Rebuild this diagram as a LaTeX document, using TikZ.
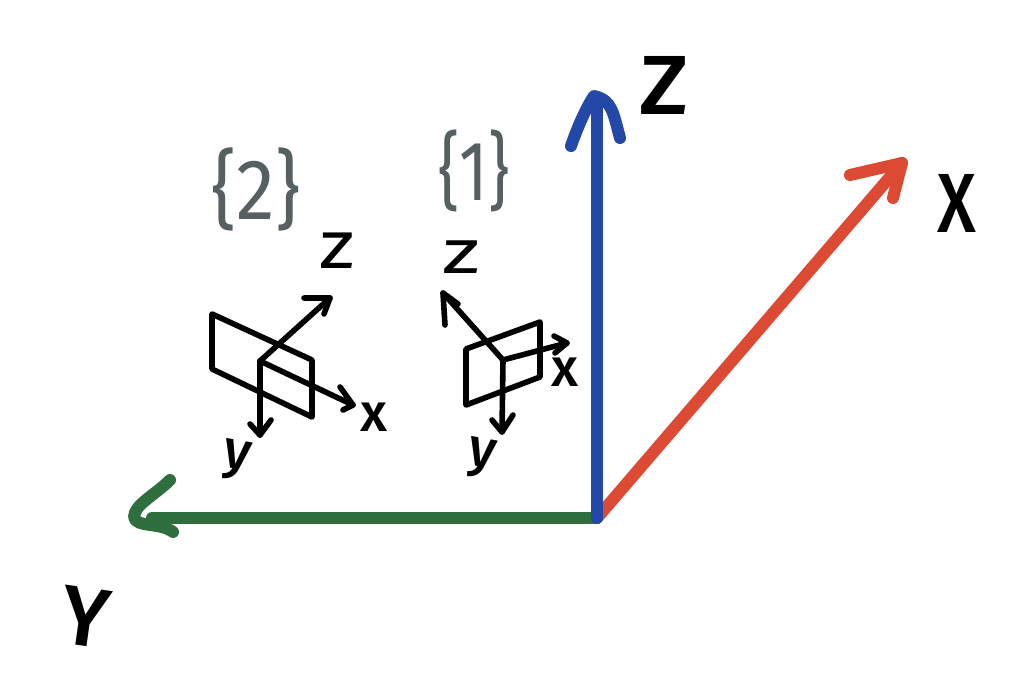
\documentclass[tikz,border=0pt]{standalone}
\usepackage{fontspec}
\setmainfont{Fira Sans}[UprightFont=* Medium]
\newfontfamily\regfont{Fira Sans}
\definecolor{axisred}{HTML}{DC4A33}
\definecolor{axisgreen}{HTML}{2F6F3E}
\definecolor{axisblue}{HTML}{2448A8}
\definecolor{framegray}{HTML}{566060}
\begin{document}
\begin{tikzpicture}[x=1pt,y=-1pt,
  pen/.style={draw=black,line width=5.6pt,line cap=round,line join=round},
  thick axis/.style={line width=12pt,line cap=round,line join=round},
  bigtext/.style={inner sep=0pt,text=black,font=\fontsize{84}{84}\selectfont},
  smalltext/.style={inner sep=0pt,text=black,font=\fontsize{54}{54}\selectfont},
  thinsmall/.style={inner sep=0pt,text=black,font=\regfont\fontsize{54}{54}\selectfont},
  frametext/.style={inner sep=0pt,text=framegray,font=\regfont\fontsize{66}{66}\selectfont}]
\useasboundingbox (0,0) rectangle (1021,700);
\fill[white] (0,0) rectangle (1021,700);

% main axes
\coordinate (O) at (597,518);
\coordinate (Xtip) at (902,163);
\coordinate (Xa) at (850,175);
\coordinate (Xb) at (893,198);
\coordinate (Ytip) at (134,517);
\coordinate (Ya) at (170,480);
\coordinate (Yb) at (173,532);
\coordinate (Ztip) at (594,96);
\coordinate (Za) at (571,146);
\coordinate (Zb) at (620,138);
\coordinate (Yshaft) at (152,518);
\coordinate (Zshaft) at (597,100);

\draw[thick axis,axisred] (O) -- (Xtip);
\draw[thick axis,axisred] (Xa) -- (Xtip) -- (Xb);
\draw[thick axis,axisgreen] (O) -- (Yshaft);
\draw[thick axis,axisgreen] (Ya) .. controls (155,495) and (134,505) .. (Ytip) .. controls (136,528) and (160,522) .. (Yb);
\draw[thick axis,axisblue] (O) -- (Zshaft);
\draw[thick axis,axisblue] (Za) .. controls (578,126) and (586,108) .. (Ztip) .. controls (612,100) and (613,112) .. (Zb);

% frame 2
\coordinate (Pa) at (212,314);
\coordinate (Pb) at (312,360);
\coordinate (Pc) at (312,417);
\coordinate (Pd) at (212,369);
\coordinate (Oa) at (260,361);
\coordinate (Oaz) at (330,298);
\coordinate (Oazl) at (304,298);
\coordinate (Oazr) at (324,314);
\coordinate (Oax) at (353,405);
\coordinate (Oaxl) at (340,387);
\coordinate (Oaxr) at (343,410);
\coordinate (Oay) at (260,435);
\coordinate (Oayl) at (250,424);
\coordinate (Oayr) at (271,420);
\draw[pen] (Pa) -- (Pb) -- (Pc) -- (Pd) -- cycle;
\draw[pen] (Oa) -- (Oaz);
\draw[pen] (Oazl) -- (Oaz) -- (Oazr);
\draw[pen] (Oa) -- (Oax);
\draw[pen] (Oaxl) -- (Oax) -- (Oaxr);
\draw[pen] (Oa) -- (Oay);
\draw[pen] (Oayl) -- (Oay) -- (Oayr);

% frame 1
\coordinate (Qa) at (466,349);
\coordinate (Qb) at (540,322);
\coordinate (Qc) at (540,377);
\coordinate (Qd) at (466,405);
\coordinate (Ob) at (503,360);
\coordinate (Obz) at (443,293);
\coordinate (Obzl) at (445,325);
\coordinate (Obzr) at (458,304);
\coordinate (Obx) at (567,343);
\coordinate (Obxl) at (554,336);
\coordinate (Obxr) at (555,353);
\coordinate (Oby) at (502,432);
\coordinate (Obyl) at (492,420);
\coordinate (Obyr) at (513,415);
\draw[pen] (Qa) -- (Qb) -- (Qc) -- (Qd) -- cycle;
\draw[pen] (Ob) -- (Obz);
\draw[pen] (Obzl) -- (Obz) -- (Obzr);
\draw[pen] (Ob) -- (Obx);
\draw[pen] (Obxl) -- (Obx) -- (Obxr);
\draw[pen] (Ob) -- (Oby);
\draw[pen] (Obyl) -- (Oby) -- (Obyr);

% labels
\node[bigtext,xscale=1.1] (lZ) at (664,85) {Z};
\node[bigtext,xscale=.82] (lX) at (957,203) {X};
\node[bigtext,rotate=-8] (lY) at (85,617) {Y};
\node[frametext,xscale=1.18,yscale=1.3] (f2) at (256,189) {\{2\}};
\node[frametext,yscale=1.28] (f1) at (474,171) {\{1\}};
\node[thinsmall,xscale=1.5,yscale=1.25] (za) at (337,251) {z};
\node[thinsmall,xscale=1.6,yscale=1.15] (zb) at (461,257) {z};
\node[smalltext] (xa) at (374,417) {x};
\node[smalltext] (xb) at (565,372) {x};
\node[smalltext,rotate=-10] (ya) at (236,461) {y};
\node[smalltext,rotate=-10] (yb) at (481,459) {y};
\end{tikzpicture}
\end{document}
